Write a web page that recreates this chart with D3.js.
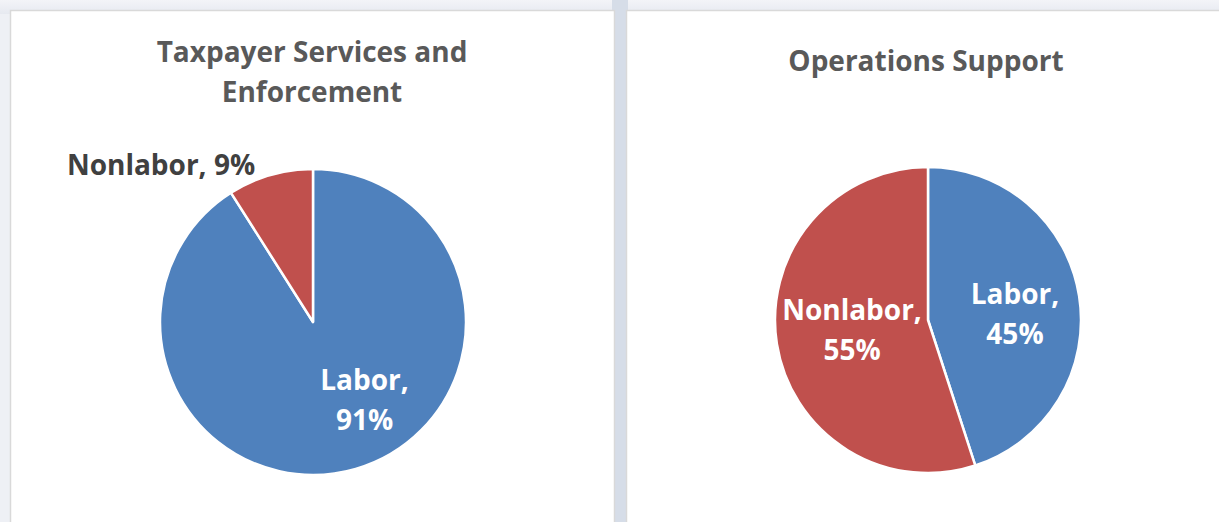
<!DOCTYPE html>
<html>
<head>
<meta charset="utf-8">
<script src="https://cdn.jsdelivr.net/npm/d3@7"></script>
<style>
  html, body { margin: 0; padding: 0; background: #eef0f5; }
  svg { display: block; font-family: "Open Sans", sans-serif; }
</style>
</head>
<body>
<div id="chart"></div>
<script>
let width = 1219, height = 522;

// data
let categories = ["Labor", "Nonlabor"];
let titles = [["Taxpayer Services and", "Enforcement"], ["Operations Support"]];
let tseValues = [91, 9];
let opsValues = [45, 55];
let colors = ["#4f81bd", "#c0504d"];

let svg = d3.select("#chart").append("svg")
    .attr("width", width)
    .attr("height", height);

// background gradient at the top
let defs = svg.append("defs");
let grad = defs.append("linearGradient").attr("id", "bg").attr("x1", 0).attr("y1", 0).attr("x2", 0).attr("y2", 1);
grad.append("stop").attr("offset", "0%").attr("stop-color", "#f3f4f8");
grad.append("stop").attr("offset", "100%").attr("stop-color", "#e6e9f0");
svg.append("rect").attr("width", width).attr("height", 14).attr("fill", "url(#bg)");

// gap between the two panels
svg.append("rect").attr("x", 612).attr("y", 0).attr("width", 16).attr("height", height).attr("fill", "#d6dde8");

// panels
let panels = [
    {x: 10, w: 604, cx: 313, cy: 322, values: tseValues, title: titles[0], titleX: 312, titleY: 62,
     // label placement: [angle (deg, clockwise from top), distance, inside?]
     labels: [[149, 100, true], [null, null, false]]},
    {x: 626, w: 600, cx: 928, cy: 320, values: opsValues, title: titles[1], titleX: 926, titleY: 71,
     labels: [[91, 87, true], [257, 78, true]]}
];

let radius = 153;
let fontSize = 28;
let pie = d3.pie().sort(null).value(d => d);
let arc = d3.arc().innerRadius(0).outerRadius(radius);

panels.forEach((p) => {
    let g = svg.append("g");
    g.append("rect")
        .attr("x", p.x + 0.5).attr("y", 10.5)
        .attr("width", p.w).attr("height", height)
        .attr("fill", "#ffffff")
        .attr("stroke", "#d9d9d9")
        .attr("stroke-width", 1.5);

    // title
    let t = g.append("text")
        .attr("y", p.titleY)
        .attr("text-anchor", "middle")
        .attr("fill", "#595959")
        .attr("font-weight", "bold")
        .attr("font-size", fontSize);
    p.title.forEach((line, i) => {
        t.append("tspan").attr("x", p.titleX).attr("dy", i === 0 ? 0 : 40).text(line);
    });

    let pg = g.append("g").attr("transform", `translate(${p.cx},${p.cy})`);
    let arcs = pie(p.values);

    pg.selectAll("path")
        .data(arcs)
        .enter().append("path")
        .attr("d", arc)
        .attr("fill", (d, i) => colors[i])
        .attr("stroke", "#ffffff")
        .attr("stroke-width", 2.5)
        .attr("stroke-linejoin", "round");

    arcs.forEach((d, i) => {
        let lab = p.labels[i];
        if (lab[2]) {
            let a = lab[0] * Math.PI / 180;
            let x = Math.sin(a) * lab[1], y = -Math.cos(a) * lab[1];
            let tx = pg.append("text")
                .attr("text-anchor", "middle")
                .attr("fill", "#ffffff")
                .attr("font-weight", "bold")
                .attr("font-size", fontSize);
            tx.append("tspan").attr("x", x).attr("y", y - 18).text(categories[i] + ",");
            tx.append("tspan").attr("x", x).attr("y", y + 22).text(p.values[i] + "%");
        } else {
            // outside label, above-left of the small slice
            pg.append("text")
                .attr("x", -152)
                .attr("y", -147)
                .attr("text-anchor", "middle")
                .attr("fill", "#404040")
                .attr("font-weight", "bold")
                .attr("font-size", fontSize)
                .text(categories[i] + ", " + p.values[i] + "%");
        }
    });
});
</script>
</body>
</html>
